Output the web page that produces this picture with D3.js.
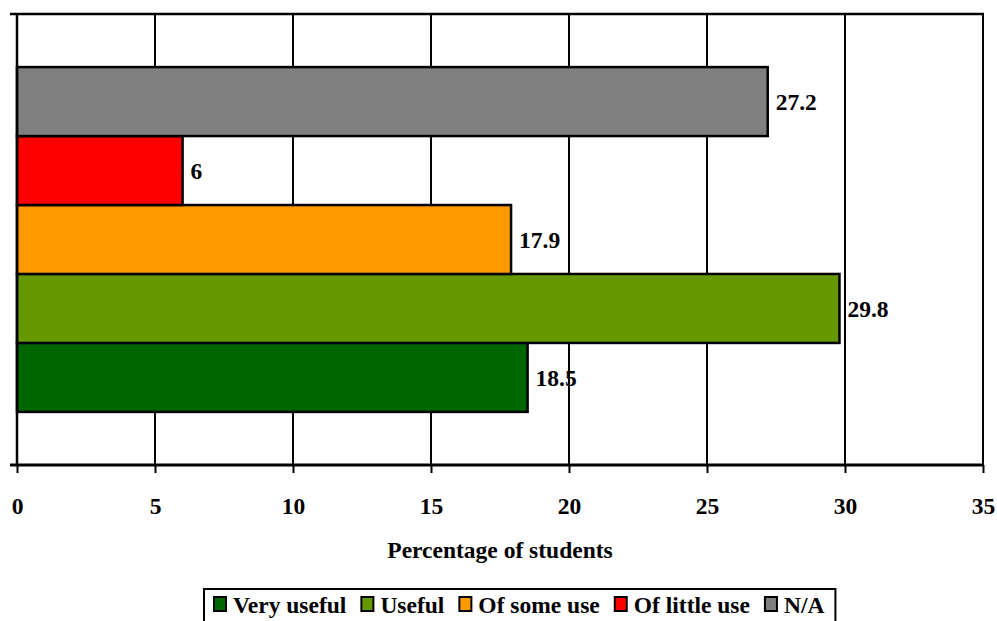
<!DOCTYPE html>
<html>
<head>
<meta charset="utf-8">
<script src="https://cdn.jsdelivr.net/npm/d3@7"></script>
<style>
  html, body { margin: 0; padding: 0; background: #fff; }
  svg { display: block; }
  text { font-family: "Liberation Serif", "Times New Roman", serif; font-weight: bold; fill: #000; }
</style>
</head>
<body>
<svg id="chart" width="997" height="621"></svg>
<script>
// Survey responses: share of students per usefulness rating
const series = ["Very useful", "Useful", "Of some use", "Of little use", "N/A"];
const values = [18.5, 29.8, 17.9, 6, 27.2];
const colors = ["#006600", "#669900", "#FF9900", "#FF0000", "#808080"];
const xTicks = [0, 5, 10, 15, 20, 25, 30, 35];
const xTitle = "Percentage of students";

const FONT = 23.5;
const svg = d3.select("#chart");
const plot = { left: 17, right: 983, top: 14, bottom: 465 };

const x = d3.scaleLinear().domain([0, 35]).range([plot.left, plot.right]);
// last series on top, first at the bottom
const y = d3.scaleBand()
  .domain(series.slice().reverse())
  .range([plot.top, plot.bottom])
  .paddingInner(0)
  .paddingOuter(0.77);

// vertical gridlines
svg.append("g")
  .selectAll("line")
  .data(xTicks.slice(1))
  .join("line")
  .attr("x1", d => x(d)).attr("x2", d => x(d))
  .attr("y1", plot.top).attr("y2", plot.bottom)
  .attr("stroke", "#000").attr("stroke-width", 2);

// top border with left tick
svg.append("line")
  .attr("x1", plot.left - 7).attr("x2", plot.right + 1)
  .attr("y1", plot.top).attr("y2", plot.top)
  .attr("stroke", "#000").attr("stroke-width", 2.5);

// bars
const data = series.map((s, i) => ({ s, v: values[i], c: colors[i] }));
svg.append("g")
  .selectAll("rect")
  .data(data)
  .join("rect")
  .attr("x", x(0))
  .attr("y", d => y(d.s))
  .attr("width", d => x(d.v) - x(0))
  .attr("height", y.bandwidth())
  .attr("fill", d => d.c)
  .attr("stroke", "#000")
  .attr("stroke-width", 2.5);

// value labels
svg.append("g")
  .selectAll("text")
  .data(data)
  .join("text")
  .attr("x", d => x(d.v) + 8)
  .attr("y", d => y(d.s) + y.bandwidth() / 2)
  .attr("dy", "0.35em")
  .attr("font-size", FONT)
  .text(d => String(d.v));

// x axis
const xAxis = d3.axisBottom(x)
  .tickValues(xTicks)
  .tickSize(8)
  .tickPadding(24)
  .tickFormat(d3.format("d"));
const gx = svg.append("g")
  .attr("transform", `translate(0,${plot.bottom})`)
  .call(xAxis);
gx.select(".domain").attr("stroke", "#000").attr("stroke-width", 3)
  .attr("d", `M${plot.left - 7},0H${plot.right + 1}`);
gx.selectAll(".tick line").attr("stroke", "#000").attr("stroke-width", 2);
gx.selectAll(".tick text")
  .attr("font-size", FONT)
  .attr("font-family", "Liberation Serif, serif")
  .attr("font-weight", "bold")
  .attr("fill", "#000");

// y axis line (single category, no labels)
svg.append("line")
  .attr("x1", plot.left).attr("x2", plot.left)
  .attr("y1", plot.top).attr("y2", plot.bottom)
  .attr("stroke", "#000").attr("stroke-width", 2.5);

// axis title
svg.append("text")
  .attr("x", (plot.left + plot.right) / 2)
  .attr("y", 558)
  .attr("text-anchor", "middle")
  .attr("font-size", FONT)
  .text(xTitle);

// legend
const legend = svg.append("g");
const legX = 204, legY = 589, legH = 36;
let cx = legX + 10;
const items = legend.selectAll("g.item")
  .data(data)
  .join("g").attr("class", "item");
items.each(function (d) {
  const g = d3.select(this);
  g.append("rect")
    .attr("x", cx).attr("y", legY + 8)
    .attr("width", 12).attr("height", 14)
    .attr("fill", d.c).attr("stroke", "#000").attr("stroke-width", 2);
  const t = g.append("text")
    .attr("x", cx + 19).attr("y", legY + 24)
    .attr("font-size", FONT)
    .text(d.s);
  cx += 19 + t.node().getComputedTextLength() + 15;
});
legend.insert("rect", ":first-child")
  .attr("x", legX).attr("y", legY)
  .attr("width", cx - legX - 4).attr("height", legH)
  .attr("fill", "#fff").attr("stroke", "#000").attr("stroke-width", 2);
</script>
</body>
</html>
